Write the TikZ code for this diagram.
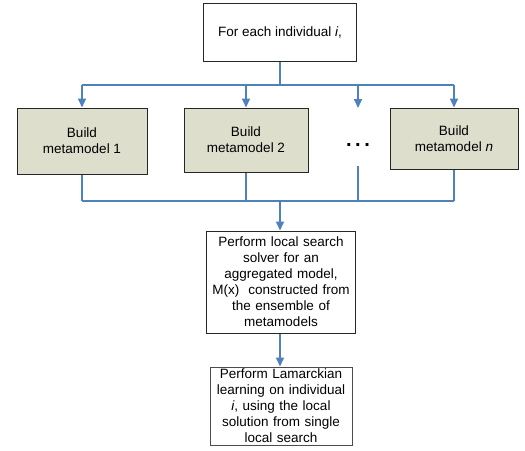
\documentclass[tikz,border=0pt]{standalone}
\usepackage{fontspec}
\setmainfont{Liberation Sans}
\usepackage{tikz}
\usetikzlibrary{arrows.meta, positioning, calc}

\definecolor{linkblue}{HTML}{4F81BD}
\definecolor{mmfill}{HTML}{DDDFCC}

\tikzset{
  box/.style = {draw=black!85, line width=1pt, fill=white, align=center,
    inner sep=2pt, font=\fontsize{13.5}{16}\selectfont},
  mmbox/.style = {box, fill=mmfill},
  link/.style = {draw=linkblue, line width=1.7pt},
  flow/.style = {link, -{Triangle[length=9pt,width=8pt]}},
}

\begin{document}
\begin{tikzpicture}[x=1pt,y=-1pt]
  \useasboundingbox (0,0) rectangle (525,450);

  % boxes
  \node[box, minimum width=153pt, minimum height=58pt] (start) at (280,32)
    {For each individual \textit{i},};
  \node[mmbox, minimum width=130pt, minimum height=66pt] (mm1) at (82,141)
    {Build\\metamodel 1};
  \node[mmbox, minimum width=124pt, minimum height=64pt] (mm2) at (246,140)
    {Build\\metamodel 2};
  \node[mmbox, minimum width=128pt, minimum height=61pt] (mmn) at (454,138.5)
    {Build\\metamodel \textit{n}};
  \node[font=\fontsize{20}{20}\bfseries\selectfont, inner sep=0pt] (dots) at (358,145)
    {.\hspace{3.5pt}.\hspace{3.5pt}.};
  \node[box, text width=145pt, minimum height=102pt] (search) at (281,282)
    {Perform local search\\solver for an\\aggregated model,\\M(x)~~constructed from\\the ensemble of\\metamodels};
  \node[box, draw=black!70, text width=142pt, minimum height=78pt, inner sep=0pt] (learn) at (281,406)
    {Perform Lamarckian\\learning on individual\\\textit{i}, using the local\\solution from single\\local search};

  % fan out
  \coordinate (topbus) at (280,85);
  \coordinate (dotstop) at (358,108);
  \coordinate (dotsbot) at (358,166);
  \coordinate (botbus) at (280,201);
  \draw[link] (start.south) -- (topbus);
  \draw[link] (topbus -| mm1) -- (topbus -| mmn);
  \foreach \n in {mm1,mm2,mmn}
    \draw[flow] (topbus -| \n) -- (\n.north);
  \draw[flow] (topbus -| dotstop) -- (dotstop);

  % fan in
  \draw[link] (botbus -| mm1) -- (botbus -| mmn);
  \foreach \n in {mm1,mm2,mmn}
    \draw[link] (\n.south) -- (botbus -| \n);
  \draw[link] (dotsbot) -- (botbus -| dotsbot);
  \draw[flow] (botbus) -- (search.north -| botbus);
  \draw[flow] (search.south -| botbus) -- (learn.north -| botbus);
\end{tikzpicture}
\end{document}
